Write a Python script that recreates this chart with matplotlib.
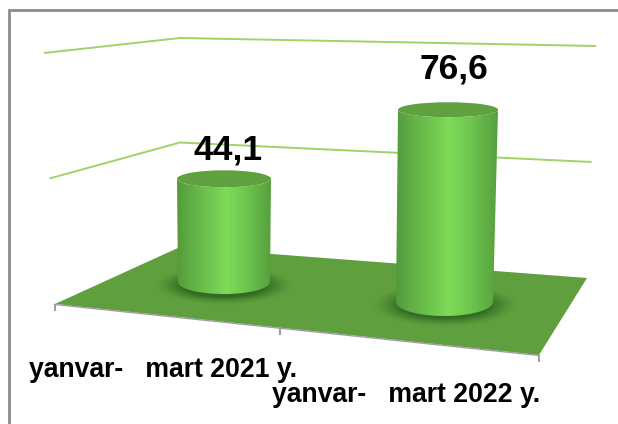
import numpy as np
import matplotlib
matplotlib.use("Agg")
import matplotlib.pyplot as plt
from matplotlib.patches import Polygon, Ellipse, PathPatch
from matplotlib.path import Path
from matplotlib.colors import LinearSegmentedColormap

# Data
categories = ["yanvar-   mart 2021 y.", "yanvar-   mart 2022 y."]
values = [44.1, 76.6]
value_labels = ["44,1", "76,6"]
grid_levels = [50, 100]

# Layout of the pseudo-3D scene, in figure pixels
W, H = 618, 424
corner_x = [55, 180, 587]
corner_y = [304, 247, 278]
corner_scale = [2.51, 2.09, 2.32]
corner_drift = [-0.11, 0.0, 0.09]
floor_front_right = (539, 355)
tick_fraction = [0.0, 0.465, 1.0]
base_x = [224, 444.5]
base_y = [282, 302]
base_rx = [46, 48.5]
base_ry = [12, 14]
top_dx = [0, 3.5]
top_rx = [47, 50]
top_ry = [8.5, 7.5]
unit_px = [2.34, 2.51]
shadow_rx = [70, 74]
shadow_ry = [20, 22]
label_x = [228, 454]
label_gap = [11, 24]
cat_x = [29, 272]
cat_y = [377, 402]

RAMP = LinearSegmentedColormap.from_list(
    "cyl", [(0.0, "#549a3a"), (0.12, "#5fab44"), (0.3, "#6cc04c"), (0.52, "#7edb57"),
            (0.72, "#70c750"), (0.9, "#5fae44"), (1.0, "#56a03c")])

fig = plt.figure(figsize=(W / 100, H / 100), dpi=100, facecolor="white")
ax = fig.add_axes([0, 0, 1, 1])
ax.set_axis_off()

# Frame: only the top and left edges are visible
ax.plot([9, 9, W], [H, 9.5, 9.5], color="#8c8c8c", lw=2.0, zorder=1, solid_joinstyle="miter")

# Value gridlines on the two back walls
for level in grid_levels:
    xs = [x + d * level for x, d in zip(corner_x, corner_drift)]
    ys = [y - s * level for y, s in zip(corner_y, corner_scale)]
    ax.plot(xs, ys, color="#a0d368", lw=1.4, zorder=2, solid_capstyle="butt")

# Floor
floor_pts = [(corner_x[0], corner_y[0]), (corner_x[1], corner_y[1]),
             (corner_x[2], corner_y[2]), floor_front_right]
floor = Polygon(floor_pts, closed=True, facecolor="#5f9f3d", edgecolor="none", zorder=3)
ax.add_patch(floor)

# Category axis with tick marks along the front edge
fx0, fy0 = corner_x[0], corner_y[0]
fx1, fy1 = floor_front_right
ax.plot([fx0, fx1], [fy0 + 0.5, fy1 + 0.5], color="#a0a0a0", lw=1.0, zorder=4)
for t in tick_fraction:
    tx = fx0 + (fx1 - fx0) * t
    ty = fy0 + (fy1 - fy0) * t
    ax.plot([tx, tx], [ty, ty + 7], color="#a0a0a0", lw=1.5, zorder=4, solid_capstyle="butt")

# Contact shadows and cylinders
for i, v in enumerate(values):
    bx, by, brx, bry = base_x[i], base_y[i], base_rx[i], base_ry[i]
    sx, sy = shadow_rx[i], shadow_ry[i]
    gx, gy = np.meshgrid(np.linspace(-1, 1, 200), np.linspace(-1, 1, 120))
    r = np.sqrt(gx ** 2 + gy ** 2)
    rgba = np.zeros(r.shape + (4,))
    rgba[..., 0] = 0.20
    rgba[..., 1] = 0.42
    rgba[..., 2] = 0.14
    rgba[..., 3] = np.clip((1 - r) / 0.40, 0, 1) ** 1.5
    shadow = ax.imshow(rgba, extent=[bx - sx, bx + sx, by + 3 + sy, by + 3 - sy],
                       aspect="auto", zorder=5, interpolation="bilinear")
    shadow.set_clip_path(floor)

    top_y = by - v * unit_px[i]
    tx = bx + top_dx[i]
    trx, trry = top_rx[i], top_ry[i]
    th = np.linspace(np.pi, 0, 80)
    bottom_arc = np.column_stack([bx + brx * np.cos(th), by + bry * np.sin(th)])
    top_arc = np.column_stack([tx + trx * np.cos(th[::-1]), top_y + trry * np.sin(th[::-1])])
    outline = np.vstack([bottom_arc, top_arc, bottom_arc[:1]])
    side = PathPatch(Path(outline), facecolor="none", edgecolor="none", zorder=6)
    ax.add_patch(side)
    x0, x1 = min(bx - brx, tx - trx), max(bx + brx, tx + trx)
    grad = np.linspace(0, 1, 256)[None, :]
    body = ax.imshow(grad, cmap=RAMP, extent=[x0, x1, by + bry, top_y - trry],
                     aspect="auto", zorder=6, interpolation="bilinear")
    body.set_clip_path(side)
    ax.add_patch(Ellipse((tx, top_y), 2 * trx, 2 * trry, facecolor="#5fa03f",
                         edgecolor="none", zorder=7))
    ax.text(label_x[i], top_y - trry - label_gap[i], value_labels[i],
            ha="center", va="baseline", fontsize=25.5, fontweight="bold",
            family="Liberation Sans", color="black", zorder=9)
    ax.text(cat_x[i], cat_y[i], categories[i], ha="left", va="baseline",
            fontsize=19.2, fontweight="bold", family="Liberation Sans",
            color="black", zorder=9)

ax.set_xlim(0, W)
ax.set_ylim(H, 0)
fig.savefig("out.png", dpi=100, facecolor="white")
